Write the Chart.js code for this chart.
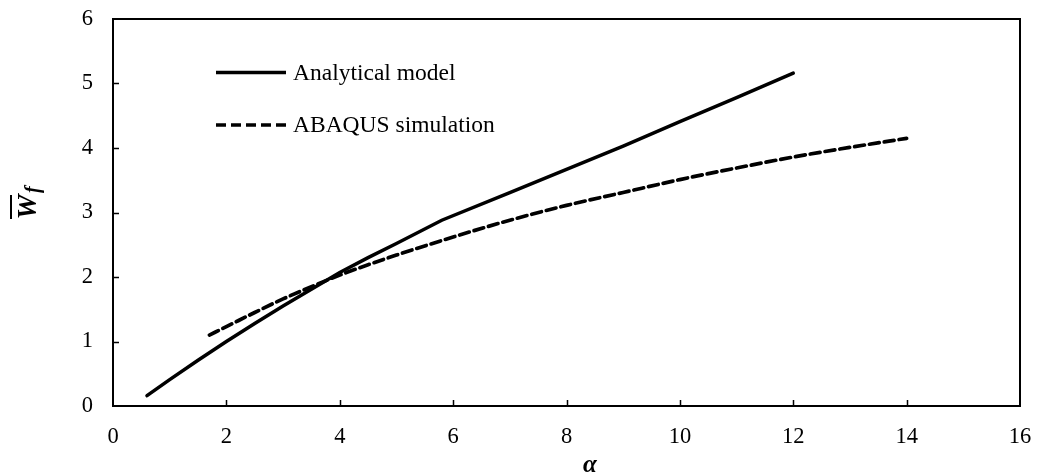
<!DOCTYPE html>
<html lang="en">
<head>
<meta charset="UTF-8">
<title>Wf x alpha</title>
<style>
  html, body { margin: 0; padding: 0; background: #fff; }
  #caixa { position: relative; width: 1037px; height: 476px; }
</style>
</head>
<body>
<div id="caixa"><canvas id="grafico"></canvas></div>
<script src="https://cdn.jsdelivr.net/npm/chart.js"></script>
<script>

// modelo analitico
var alfa_analitico = [0.6, 1, 1.5, 2, 2.5, 3, 3.5, 4, 4.5, 5, 5.8, 7, 8, 9, 10, 11, 12];
var wf_analitico   = [0.16, 0.41, 0.71, 1.0, 1.28, 1.55, 1.81, 2.07, 2.30, 2.52, 2.88, 3.31, 3.67, 4.03, 4.41, 4.78, 5.16];

// simulacao ABAQUS
var alfa_abaqus = [1.7, 2, 2.5, 3, 3.5, 4, 4.5, 5, 6, 7, 8, 9, 10, 11, 12, 13, 14];
var wf_abaqus   = [1.1, 1.23, 1.45, 1.66, 1.85, 2.03, 2.19, 2.34, 2.62, 2.88, 3.11, 3.31, 3.51, 3.69, 3.86, 4.01, 4.15];

var nomes_series = ['Analytical model', 'ABAQUS simulation'];
var ticks_x = [0, 2, 4, 6, 8, 10, 12, 14, 16];
var ticks_y = [0, 1, 2, 3, 4, 5, 6];

var fonte = "'Liberation Serif', 'Times New Roman', serif";

function pontos(xs, ys) {
  var lista = [];
  for (var i = 0; i < xs.length; i++) {
    lista.push({ x: xs[i], y: ys[i] });
  }
  return lista;
}

// moldura, tracinhos para dentro, legenda e titulos dos eixos
const moldura = {
  id: 'moldura',
  afterDraw(chart) {
    const ctx = chart.ctx;
    const area = chart.chartArea;
    const sx = chart.scales.x;
    const sy = chart.scales.y;

    ctx.save();
    ctx.strokeStyle = '#000';
    ctx.lineWidth = 2;
    ctx.strokeRect(area.left, area.top, area.right - area.left, area.bottom - area.top);

    ctx.beginPath();
    ticks_x.forEach(function (v) {
      if (v <= sx.min || v >= sx.max) return;
      var px = Math.round(sx.getPixelForValue(v)) + 0.5;
      ctx.moveTo(px, area.bottom);
      ctx.lineTo(px, area.bottom - 6);
    });
    ticks_y.forEach(function (v) {
      if (v <= sy.min || v >= sy.max) return;
      var py = Math.round(sy.getPixelForValue(v)) + 0.5;
      ctx.moveTo(area.left, py);
      ctx.lineTo(area.left + 6, py);
    });
    ctx.lineWidth = 1.5;
    ctx.stroke();

    // legenda
    var linhas_y = [72.5, 125];
    chart.data.datasets.forEach(function (ds, i) {
      ctx.beginPath();
      ctx.lineWidth = ds.borderWidth;
      ctx.lineCap = 'butt';
      ctx.setLineDash(ds.borderDash || []);
      ctx.moveTo(216, linhas_y[i]);
      ctx.lineTo(286, linhas_y[i]);
      ctx.stroke();
      ctx.setLineDash([]);
      ctx.fillStyle = '#000';
      ctx.font = '23.5px ' + fonte;
      ctx.textAlign = 'left';
      ctx.textBaseline = 'middle';
      ctx.fillText(ds.label, 293, linhas_y[i] + 1);
    });

    // titulo do eixo x
    ctx.font = 'italic bold 25px ' + fonte;
    ctx.textAlign = 'center';
    ctx.textBaseline = 'alphabetic';
    ctx.fillText('\u03b1', 590, 472);

    // titulo do eixo y (W com barra e indice f)
    ctx.translate(36, 207);
    ctx.rotate(-Math.PI / 2);
    ctx.font = 'italic bold 28px ' + fonte;
    ctx.textAlign = 'center';
    ctx.fillText('W', 0, 0);
    ctx.beginPath();
    ctx.lineWidth = 2;
    ctx.moveTo(-12, -25);
    ctx.lineTo(12, -25);
    ctx.stroke();
    ctx.font = 'italic bold 20px ' + fonte;
    ctx.textAlign = 'left';
    ctx.fillText('f', 14, 3);
    ctx.restore();
  }
};

const ctx = document.getElementById('grafico');

new Chart(ctx, {
  type: 'line',
  data: {
    datasets: [{
      label: nomes_series[0],
      data: pontos(alfa_analitico, wf_analitico),
      borderColor: '#000',
      borderWidth: 3.5,
      borderCapStyle: 'round',
      pointRadius: 0,
      tension: 0
    }, {
      label: nomes_series[1],
      data: pontos(alfa_abaqus, wf_abaqus),
      borderColor: '#000',
      borderWidth: 3.7,
      borderDash: [10, 5],
      borderCapStyle: 'round',
      pointRadius: 0,
      cubicInterpolationMode: 'monotone'
    }]
  },
  options: {
    responsive: true,
    maintainAspectRatio: false,
    animation: false,
    layout: { padding: { top: 19, right: 17, left: 0, bottom: 0 } },
    scales: {
      x: {
        type: 'linear',
        min: 0,
        max: 16,
        afterFit: function (s) { s.height = 70; s.paddingLeft = 0; s.paddingRight = 0; },
        afterBuildTicks: function (s) { s.ticks = ticks_x.map(function (v) { return { value: v }; }); },
        grid: { display: false, drawTicks: false },
        border: { display: false },
        ticks: { color: '#000', padding: 18, maxRotation: 0, font: { family: fonte, size: 22.5 } }
      },
      y: {
        type: 'linear',
        min: 0,
        max: 6,
        afterFit: function (s) { s.width = 113; s.paddingTop = 0; s.paddingBottom = 0; },
        afterBuildTicks: function (s) { s.ticks = ticks_y.map(function (v) { return { value: v }; }); },
        grid: { display: false, drawTicks: false },
        border: { display: false },
        ticks: { color: '#000', padding: 20, font: { family: fonte, size: 22.5 } }
      }
    },
    plugins: {
      legend: { display: false },
      tooltip: { enabled: false }
    }
  },
  plugins: [moldura]
});

</script>
</body>
</html>
